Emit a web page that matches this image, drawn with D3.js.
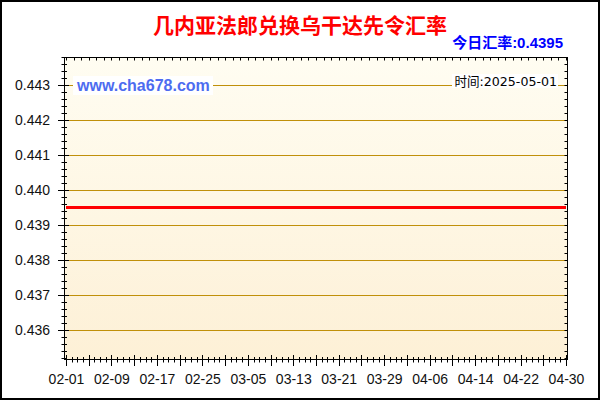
<!DOCTYPE html>
<html><head><meta charset="utf-8">
<script src="https://cdn.jsdelivr.net/npm/d3@7"></script>
<style>html,body{margin:0;padding:0;background:#fff;}svg{display:block;}</style>
</head><body>
<svg id="c" width="600" height="400"></svg>
<script>
const titleText = "几内亚法郎兑换乌干达先令汇率";
const rateLabel = "今日汇率:0.4395";
const dateLabel = "时间:2025-05-01";
const watermark = "www.cha678.com";
const dates = ["2025-02-01","2025-02-09","2025-02-17","2025-02-25","2025-03-05","2025-03-13","2025-03-21","2025-03-29","2025-04-06","2025-04-14","2025-04-22","2025-04-30"];
const values = [0.4395,0.4395,0.4395,0.4395,0.4395,0.4395,0.4395,0.4395,0.4395,0.4395,0.4395,0.4395];
const yTicks = [0.436,0.437,0.438,0.439,0.440,0.441,0.442,0.443];
const yDomain = [0.43513, 0.44381];

const parse = d3.timeParse("%Y-%m-%d");
const dateObjs = dates.map(parse);
const svg = d3.select("#c");
const L = 64, R = 568, T = 57, B = 360;

const x = d3.scaleTime().domain([dateObjs[0], dateObjs[dateObjs.length-1]]).range([66, 566]);
const y = d3.scaleLinear().domain(yDomain).range([B, T]);

// outer frame
svg.append("rect").attr("x",1).attr("y",1).attr("width",598).attr("height",398)
  .attr("fill","#fff").attr("stroke","#000").attr("stroke-width",2);

// gradient
const defs = svg.append("defs");
const g = defs.append("linearGradient").attr("id","bg").attr("x1",0).attr("y1",0).attr("x2",0).attr("y2",1);
g.append("stop").attr("offset","0%").attr("stop-color","#fffdf2");
g.append("stop").attr("offset","100%").attr("stop-color","#fdf0d6");
svg.append("rect").attr("x",L).attr("y",T).attr("width",R-L).attr("height",B-T).attr("fill","url(#bg)");

// gridlines
svg.append("g").selectAll("line").data(yTicks).join("line")
  .attr("x1",L).attr("x2",R).attr("y1",d=>Math.round(y(d))+0.5).attr("y2",d=>Math.round(y(d))+0.5)
  .attr("stroke","#c0900a").attr("stroke-width",1);

// watermark & date text with white backgrounds
svg.append("rect").attr("x",73).attr("y",76).attr("width",140).attr("height",19).attr("fill","#fff");
svg.append("text").attr("x",77).attr("y",90.5).text(watermark)
  .attr("font-family","Liberation Sans, Arial, sans-serif").attr("font-weight","bold").attr("font-size",16)
  .attr("fill","#4d6cf0");
svg.append("rect").attr("x",452).attr("y",74).attr("width",106).attr("height",14).attr("fill","#fff");
svg.append("text").attr("x",557).attr("y",86).attr("text-anchor","end").text(dateLabel)
  .attr("font-family","DejaVu Sans, Noto Sans CJK SC, sans-serif").attr("font-size",12.6).attr("fill","#000");

// data line
svg.append("path").datum(values.map((v,i)=>[dateObjs[i],v]))
  .attr("d", d3.line().x(d=>x(d[0])).y(d=>y(d[1])))
  .attr("fill","none").attr("stroke","#ff0000").attr("stroke-width",3);

// frame
svg.append("rect").attr("x",L+0.5).attr("y",T+0.5).attr("width",R-L-1).attr("height",B-T-1)
  .attr("fill","none").attr("stroke","#000").attr("stroke-width",1);

const tk = svg.append("g").attr("stroke","#000").attr("stroke-width",1);
// y minor ticks
const yMinor = d3.range(0, 47).map(i => +(0.4352 + i*0.0002).toFixed(4)).filter(v=>v>=yDomain[0]&&v<=yDomain[1]);
tk.selectAll(".ym").data(yMinor).join("line")
  .attr("x1",L-2.5).attr("x2",L+3).attr("y1",d=>Math.round(y(d))+0.5).attr("y2",d=>Math.round(y(d))+0.5);
tk.selectAll(".yM").data(yTicks).join("line")
  .attr("x1",L-6).attr("x2",L+5).attr("y1",d=>Math.round(y(d))+0.5).attr("y2",d=>Math.round(y(d))+0.5);
tk.selectAll(".yr").data(yMinor).join("line")
  .attr("x1",R-3.5).attr("x2",R).attr("y1",d=>Math.round(y(d))+0.5).attr("y2",d=>Math.round(y(d))+0.5);

// x ticks
const days = d3.timeDay.range(dateObjs[0], d3.timeDay.offset(dateObjs[dateObjs.length-1],1));
tk.selectAll(".xm").data(days).join("line")
  .attr("x1",d=>Math.round(x(d))+0.5).attr("x2",d=>Math.round(x(d))+0.5).attr("y1",B-3).attr("y2",B+2.5);
tk.selectAll(".xM").data(days.filter((d,i)=>i%4===0)).join("line")
  .attr("x1",d=>Math.round(x(d))+0.5).attr("x2",d=>Math.round(x(d))+0.5).attr("y1",B-5).attr("y2",B+6);
// top ticks
const topTicks = d3.range(0, 67).map(i => d3.timeHour.offset(dateObjs[0], i*32));
tk.selectAll(".xt").data(topTicks).join("line")
  .attr("x1",d=>Math.round(x(d))+0.5).attr("x2",d=>Math.round(x(d))+0.5).attr("y1",T).attr("y2",T+3.5);

// axis labels
const yAxis = d3.axisLeft(y).tickValues(yTicks).tickFormat(d3.format(".3f")).tickSize(6).tickPadding(8);
const ya = svg.append("g").attr("transform",`translate(${L},0)`).call(yAxis);
ya.select(".domain").remove(); ya.selectAll("line").remove();
ya.selectAll("text").attr("font-family","Liberation Sans, Arial, sans-serif").attr("font-size",14).attr("fill","#111");

const xAxis = d3.axisBottom(x).tickValues(dateObjs).tickFormat(d3.timeFormat("%m-%d")).tickSize(6).tickPadding(8);
const xa = svg.append("g").attr("transform",`translate(0,${B})`).call(xAxis);
xa.select(".domain").remove(); xa.selectAll("line").remove();
xa.selectAll("text").attr("font-family","Liberation Sans, Arial, sans-serif").attr("font-size",14).attr("fill","#111");

// title
svg.append("text").attr("x",300).attr("y",33).attr("text-anchor","middle").text(titleText)
  .attr("font-family","Noto Sans CJK SC, sans-serif").attr("font-weight","bold").attr("font-size",21).attr("fill","#ff0000");
svg.append("text").attr("x",563).attr("y",48).attr("text-anchor","end").text(rateLabel)
  .attr("font-family","Liberation Sans, Noto Sans CJK SC, sans-serif").attr("font-weight","bold").attr("font-size",15).attr("fill","#0000ff");
</script>
</body></html>
